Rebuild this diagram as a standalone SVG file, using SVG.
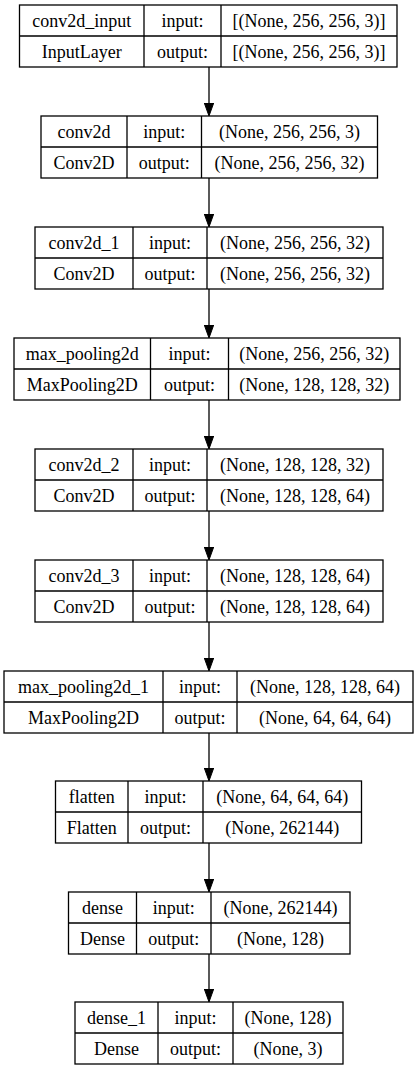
<svg xmlns="http://www.w3.org/2000/svg" width="419" height="1069" viewBox="0 0 419 1069">
  <style>
    .box { fill: #ffffff; stroke: #000000; stroke-width: 1.3; }
    .sep { stroke: #000000; stroke-width: 1.3; }
    .edge { fill: none; stroke: #000000; stroke-width: 1.3; }
    text { font-family: "Liberation Serif", "Times New Roman", serif; font-size: 18px; fill: #000000; text-anchor: middle; }
  </style>
  <defs>
    <marker id="arrowhead" markerUnits="userSpaceOnUse" markerWidth="13" markerHeight="10" refX="0" refY="4.7" orient="auto">
      <path d="M0,0 L13,4.7 L0,9.4 Z" fill="#000000" stroke="#000000" stroke-width="1"/>
    </marker>
  </defs>
  <rect width="419" height="1069" fill="#ffffff"/>

  <!-- connectors between consecutive layers -->
  <g id="edges">
    <path class="edge" d="M209,67 V103" marker-end="url(#arrowhead)"/>
    <path class="edge" d="M209,178 V214" marker-end="url(#arrowhead)"/>
    <path class="edge" d="M209,289 V325" marker-end="url(#arrowhead)"/>
    <path class="edge" d="M209,400 V436" marker-end="url(#arrowhead)"/>
    <path class="edge" d="M209,511 V547" marker-end="url(#arrowhead)"/>
    <path class="edge" d="M209,622 V658" marker-end="url(#arrowhead)"/>
    <path class="edge" d="M209,733 V768" marker-end="url(#arrowhead)"/>
    <path class="edge" d="M209,843 V879" marker-end="url(#arrowhead)"/>
    <path class="edge" d="M209,954 V989" marker-end="url(#arrowhead)"/>
  </g>

  <g id="conv2d_input">
    <rect class="box" x="19.5" y="5" width="377.5" height="62"/>
    <path class="sep" d="M19.5,36 H397 M144,5 V67 M221,5 V67"/>
    <text x="81.75" y="26.5">conv2d_input</text>
    <text x="81.75" y="57.5">InputLayer</text>
    <text x="182.5" y="26.5">input:</text>
    <text x="182.5" y="57.5">output:</text>
    <text x="309" y="26.5">[(None, 256, 256, 3)]</text>
    <text x="309" y="57.5">[(None, 256, 256, 3)]</text>
  </g>

  <g id="conv2d">
    <rect class="box" x="41" y="116" width="336.5" height="62"/>
    <path class="sep" d="M41,147 H377.5 M127,116 V178 M201.5,116 V178"/>
    <text x="84" y="137.5">conv2d</text>
    <text x="84" y="168.5">Conv2D</text>
    <text x="164.25" y="137.5">input:</text>
    <text x="164.25" y="168.5">output:</text>
    <text x="289.5" y="137.5">(None, 256, 256, 3)</text>
    <text x="289.5" y="168.5">(None, 256, 256, 32)</text>
  </g>

  <g id="conv2d_1">
    <rect class="box" x="35" y="227" width="348" height="62"/>
    <path class="sep" d="M35,258 H383 M133,227 V289 M207,227 V289"/>
    <text x="84" y="248.5">conv2d_1</text>
    <text x="84" y="279.5">Conv2D</text>
    <text x="170" y="248.5">input:</text>
    <text x="170" y="279.5">output:</text>
    <text x="295" y="248.5">(None, 256, 256, 32)</text>
    <text x="295" y="279.5">(None, 256, 256, 32)</text>
  </g>

  <g id="max_pooling2d">
    <rect class="box" x="14" y="338" width="386" height="62"/>
    <path class="sep" d="M14,369 H400 M150.5,338 V400 M228.5,338 V400"/>
    <text x="82.25" y="359.5">max_pooling2d</text>
    <text x="82.25" y="390.5">MaxPooling2D</text>
    <text x="189.5" y="359.5">input:</text>
    <text x="189.5" y="390.5">output:</text>
    <text x="314.25" y="359.5">(None, 256, 256, 32)</text>
    <text x="314.25" y="390.5">(None, 128, 128, 32)</text>
  </g>

  <g id="conv2d_2">
    <rect class="box" x="35" y="449" width="348" height="62"/>
    <path class="sep" d="M35,480 H383 M133,449 V511 M207,449 V511"/>
    <text x="84" y="470.5">conv2d_2</text>
    <text x="84" y="501.5">Conv2D</text>
    <text x="170" y="470.5">input:</text>
    <text x="170" y="501.5">output:</text>
    <text x="295" y="470.5">(None, 128, 128, 32)</text>
    <text x="295" y="501.5">(None, 128, 128, 64)</text>
  </g>

  <g id="conv2d_3">
    <rect class="box" x="35" y="560" width="348" height="62"/>
    <path class="sep" d="M35,591 H383 M133,560 V622 M207,560 V622"/>
    <text x="84" y="581.5">conv2d_3</text>
    <text x="84" y="612.5">Conv2D</text>
    <text x="170" y="581.5">input:</text>
    <text x="170" y="612.5">output:</text>
    <text x="295" y="581.5">(None, 128, 128, 64)</text>
    <text x="295" y="612.5">(None, 128, 128, 64)</text>
  </g>

  <g id="max_pooling2d_1">
    <rect class="box" x="4" y="671" width="409" height="62"/>
    <path class="sep" d="M4,702 H413 M163,671 V733 M237,671 V733"/>
    <text x="83.5" y="692.5">max_pooling2d_1</text>
    <text x="83.5" y="723.5">MaxPooling2D</text>
    <text x="200" y="692.5">input:</text>
    <text x="200" y="723.5">output:</text>
    <text x="325" y="692.5">(None, 128, 128, 64)</text>
    <text x="325" y="723.5">(None, 64, 64, 64)</text>
  </g>

  <g id="flatten">
    <rect class="box" x="55.5" y="781" width="306" height="62"/>
    <path class="sep" d="M55.5,812 H361.5 M128,781 V843 M203,781 V843"/>
    <text x="91.75" y="802.5">flatten</text>
    <text x="91.75" y="833.5">Flatten</text>
    <text x="165.5" y="802.5">input:</text>
    <text x="165.5" y="833.5">output:</text>
    <text x="282.25" y="802.5">(None, 64, 64, 64)</text>
    <text x="282.25" y="833.5">(None, 262144)</text>
  </g>

  <g id="dense">
    <rect class="box" x="68.5" y="892" width="281.5" height="62"/>
    <path class="sep" d="M68.5,923 H350 M136.5,892 V954 M211,892 V954"/>
    <text x="102.5" y="913.5">dense</text>
    <text x="102.5" y="944.5">Dense</text>
    <text x="173.75" y="913.5">input:</text>
    <text x="173.75" y="944.5">output:</text>
    <text x="280.5" y="913.5">(None, 262144)</text>
    <text x="280.5" y="944.5">(None, 128)</text>
  </g>

  <g id="dense_1">
    <rect class="box" x="75" y="1002" width="268" height="62"/>
    <path class="sep" d="M75,1033 H343 M158,1002 V1064 M233,1002 V1064"/>
    <text x="116.5" y="1023.5">dense_1</text>
    <text x="116.5" y="1054.5">Dense</text>
    <text x="195.5" y="1023.5">input:</text>
    <text x="195.5" y="1054.5">output:</text>
    <text x="288" y="1023.5">(None, 128)</text>
    <text x="288" y="1054.5">(None, 3)</text>
  </g>
</svg>
